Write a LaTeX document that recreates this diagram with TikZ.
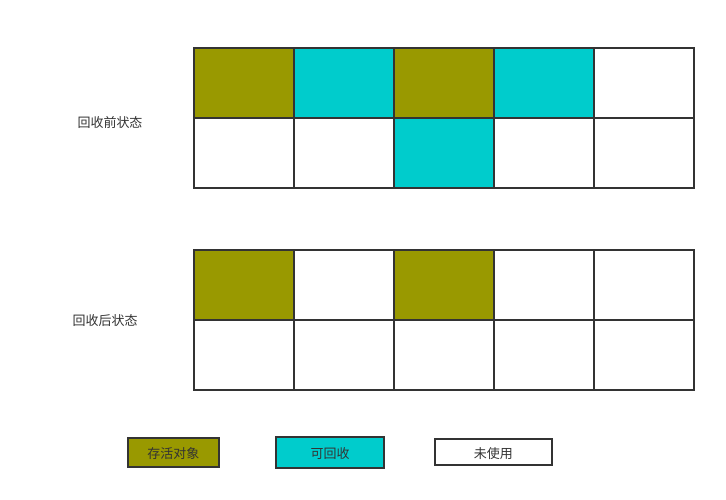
\documentclass[tikz,border=0pt]{standalone}
\usepackage{fontspec}
\newfontfamily\cjk{Noto Sans CJK SC}
\definecolor{live}{HTML}{999900}
\definecolor{free}{HTML}{00CCCC}
\definecolor{edge}{HTML}{333333}
\tikzset{
  cell/.style={draw=edge, line width=2pt},
  keybox/.style={draw=edge, line width=2pt, inner sep=0pt, text height=13pt, text depth=1pt, font=\cjk\fontsize{13}{13}\selectfont, text=edge},
  state/.style={font=\cjk\fontsize{13}{13}\selectfont, text=edge}
}
\begin{document}
\begin{tikzpicture}[x=1pt,y=-1pt]
\useasboundingbox (0,0) rectangle (726,499);
% before
\fill[live] (194,48) rectangle (294,118);
\fill[free] (294,48) rectangle (394,118);
\fill[live] (394,48) rectangle (494,118);
\fill[free] (494,48) rectangle (594,118);
\fill[free] (394,118) rectangle (494,188);
\draw[cell] (194,118) -- (694,118);
\foreach \x in {294,394,494,594}
  \draw[cell] (\x,48) -- (\x,188);
\draw[cell] (194,48) rectangle (694,188);
\node[state] (before) at (110,123) {回收前状态};
% after
\fill[live] (194,250) rectangle (294,320);
\fill[live] (394,250) rectangle (494,320);
\draw[cell] (194,320) -- (694,320);
\foreach \x in {294,394,494,594}
  \draw[cell] (\x,250) -- (\x,390);
\draw[cell] (194,250) rectangle (694,390);
\node[state] (after) at (105,321) {回收后状态};
% legend
\node[keybox, fill=live, minimum width=91pt, minimum height=29pt] (alive) at (173.3,452) {存活对象};
\node[keybox, fill=free, minimum width=108pt, minimum height=31pt] (garbage) at (330,452.3) {可回收};
\node[keybox, fill=white, minimum width=117pt, minimum height=26pt] (unused) at (493.3,452) {未使用};
\end{tikzpicture}
\end{document}
